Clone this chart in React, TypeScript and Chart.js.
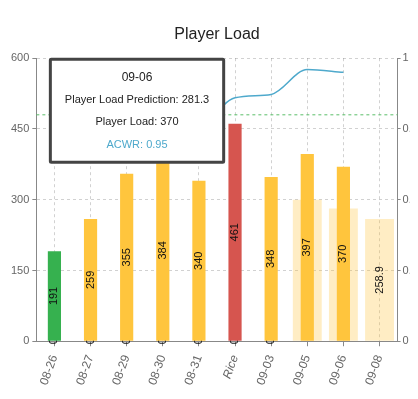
import React, { useEffect, useRef } from "react";
import { Chart, registerables, Tooltip } from "chart.js";

Chart.register(...registerables);

const categories = ["08-26", "08-27", "08-29", "08-30", "08-31", "Rice", "09-03", "09-05", "09-06", "09-08"];
const playerLoad: (number | null)[] = [191, 259, 355, 384, 340, 461, 348, 397, 370, null];
const loadPrediction: (number | null)[] = [0, 0, 0, 0, 0, 0, 0, 300, 281.3, 258.9];
const acwr: (number | null)[] = [null, null, null, null, 0.73, 0.86, 0.872, 0.96, 0.95, null];
const acwrThreshold = 0.8;
const leftTicks = { min: 0, max: 600, step: 150 };
const rightTicks = { min: 0, max: 1, step: 0.25 };
const activeIndex = 8;

const GREEN = "#36b14f";
const YELLOW = "#ffc53d";
const RED = "#d6554f";
const LIGHT_YELLOW = "rgba(255,197,61,0.3)";
const BLUE = "#4ea9cc";

const barColors = playerLoad.map((v, i) =>
  categories[i] === "Rice" ? RED : i === 0 ? GREEN : YELLOW
);

(Tooltip.positioners as any).fixedTopLeft = function (this: any) {
  const area = this.chart.chartArea;
  return { x: area.left + 15, y: area.top + 1, xAlign: "left", yAlign: "top" };
};

const barLabels = {
  id: "barLabels",
  afterDatasetDraw(chart: any, args: any) {
    const ds = chart.data.datasets[args.index];
    if (ds.type === "line") return;
    const ctx = chart.ctx;
    ctx.save();
    ctx.font = "11px 'Helvetica Neue', Helvetica, Arial, sans-serif";
    ctx.fillStyle = "#111";
    ctx.textAlign = "center";
    ctx.textBaseline = "middle";
    args.meta.data.forEach((el: any, i: number) => {
      const v = ds.data[i];
      if (v == null) return;
      const p = el.getProps(["x", "y", "base"], true);
      ctx.save();
      ctx.translate(p.x, (p.y + p.base) / 2);
      ctx.rotate(-Math.PI / 2);
      ctx.fillText(String(v), 0, 0);
      ctx.restore();
    });
    ctx.restore();
  },
};

const thresholdLine = {
  id: "thresholdLine",
  beforeDatasetsDraw(chart: any) {
    const { ctx, chartArea } = chart;
    const y = chart.scales.y1.getPixelForValue(acwrThreshold);
    ctx.save();
    ctx.strokeStyle = "#5cbf6a";
    ctx.lineWidth = 1;
    ctx.setLineDash([3, 3]);
    ctx.beginPath();
    ctx.moveTo(chartArea.left, y);
    ctx.lineTo(chartArea.right, y);
    ctx.stroke();
    ctx.restore();
  },
};

export default function App() {
  const ref = useRef<HTMLCanvasElement>(null);
  useEffect(() => {
    document.documentElement.style.overflow = "hidden";
    if (!ref.current) return;
    const chart = new Chart(ref.current, {
      type: "bar",
      data: {
        labels: categories,
        datasets: [
          {
            type: "bar",
            label: "Player Load Prediction",
            data: loadPrediction,
            backgroundColor: LIGHT_YELLOW,
            grouped: false,
            barPercentage: 1,
            categoryPercentage: 0.8,
            yAxisID: "y",
            order: 3,
          } as any,
          {
            type: "bar",
            label: "Player Load",
            data: playerLoad,
            backgroundColor: barColors,
            grouped: false,
            barPercentage: 0.456,
            categoryPercentage: 0.8,
            yAxisID: "y",
            order: 2,
          } as any,
          {
            type: "line",
            label: "ACWR",
            data: acwr,
            borderColor: BLUE,
            backgroundColor: BLUE,
            borderWidth: 1.5,
            pointRadius: 0,
            cubicInterpolationMode: "monotone",
            fill: false,
            yAxisID: "y1",
            order: 1,
          } as any,
        ],
      },
      options: {
        animation: false,
        responsive: true,
        maintainAspectRatio: false,
        events: [],
        layout: { padding: { top: 7, bottom: 5, left: 0, right: 0 } },
        font: { family: "'Helvetica Neue', Helvetica, Arial, sans-serif" },
        plugins: {
          legend: { display: false },
          title: {
            display: true,
            text: "Player Load",
            color: "#222",
            font: { size: 16, weight: "normal" },
            padding: { top: 10, bottom: 14 },
          },
          tooltip: {
            enabled: true,
            mode: "index",
            position: "fixedTopLeft" as any,
            backgroundColor: "#fff",
            borderColor: "#444",
            borderWidth: 3,
            cornerRadius: 1,
            caretSize: 0,
            caretPadding: 0,
            displayColors: false,
            titleColor: "#222",
            bodyColor: "#222",
            titleFont: { size: 12, weight: "normal" },
            bodyFont: { size: 11 },
            titleAlign: "center",
            bodyAlign: "center",
            titleMarginBottom: 8.6,
            bodySpacing: 9.2,
            padding: { top: 11, bottom: 11, left: 14.5, right: 14.5 },
            itemSort: (a: any, b: any) => a.datasetIndex - b.datasetIndex,
            callbacks: {
              labelTextColor: (c: any) => (c.datasetIndex === 2 ? BLUE : "#222"),
            },
          },
        },
        scales: {
          x: {
            grid: {
              offset: false,
              color: "rgba(0,0,0,0.18)",
              tickColor: "#888",
              tickLength: 5,
            },
            border: { display: true, color: "#888", dash: [3, 3] },
            ticks: {
              color: "#666",
              minRotation: 70,
              maxRotation: 70,
              padding: 7,
              font: (c: any) =>
                c.tick && c.tick.label === "Rice"
                  ? { size: 12, style: "italic" }
                  : { size: 12 },
            },
          },
          y: {
            position: "left",
            min: leftTicks.min,
            max: leftTicks.max,
            grid: { color: "rgba(0,0,0,0.18)", tickColor: "#888", tickLength: 4 },
            border: { display: true, color: "#888", dash: [3, 3] },
            ticks: { stepSize: leftTicks.step, color: "#666", font: { size: 11 }, padding: 3 },
          },
          y1: {
            position: "right",
            min: rightTicks.min,
            max: rightTicks.max,
            grid: { drawOnChartArea: false, tickColor: "#888", tickLength: 3 },
            border: { display: true, color: "#888" },
            ticks: {
              stepSize: rightTicks.step,
              color: "#666",
              font: { size: 11 },
              padding: 2,
              callback: (v: any) => String(v),
            },
          },
        },
      } as any,
      plugins: [barLabels, thresholdLine],
    });
    const els = [0, 1, 2].map((d) => ({ datasetIndex: d, index: activeIndex }));
    const meta = chart.getDatasetMeta(1).data[activeIndex] as any;
    chart.tooltip!.setActiveElements(els, { x: meta.x, y: meta.y });
    chart.update();
    return () => chart.destroy();
  }, []);
  return (
    <div style={{ width: 418, height: 391, position: "relative" }}>
      <canvas ref={ref} />
    </div>
  );
}
